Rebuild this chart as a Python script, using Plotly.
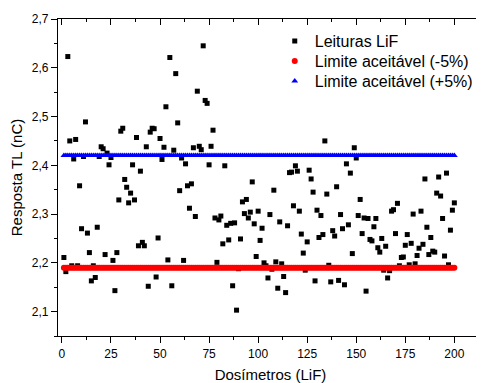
import plotly.graph_objects as go

dosimetros = list(range(1, 201))
leituras = [
    2.211, 2.182, 2.623, 2.450, 2.194, 2.413, 2.453, 2.194, 2.358, 2.270,
    2.418, 2.489, 2.261, 2.221, 2.163, 2.194, 2.170, 2.273, 2.418, 2.438,
    2.434, 2.217, 2.425, 2.401, 2.416, 2.205, 2.143, 2.221, 2.329, 2.470,
    2.476, 2.371, 2.355, 2.323, 2.343, 2.401, 2.329, 2.457, 2.235, 2.388,
    2.242, 2.235, 2.438, 2.152, 2.468, 2.476, 2.475, 2.171, 2.251, 2.455,
    2.412, 2.437, 2.520, 2.206, 2.621, 2.153, 2.431, 2.588, 2.487, 2.348,
    2.415, 2.205, 2.403, 2.358, 2.312, 2.362, 2.436, 2.295, 2.552, 2.439,
    2.432, 2.645, 2.533, 2.527, 2.401, 2.439, 2.472, 2.292, 2.201, 2.288,
    2.296, 2.239, 2.399, 2.277, 2.247, 2.281, 2.153, 2.282, 2.103, 2.188,
    2.249, 2.325, 2.301, 2.330, 2.292, 2.304, 2.366, 2.280, 2.213, 2.306,
    2.246, 2.271, 2.200, 2.194, 2.169, 2.299, 2.187, 2.349, 2.202, 2.148,
    2.284, 2.198, 2.172, 2.139, 2.276, 2.385, 2.386, 2.317, 2.399, 2.388,
    2.306, 2.259, 2.220, 2.185, 2.243, 2.390, 2.372, 2.345, 2.163, 2.308,
    2.252, 2.297, 2.258, 2.450, 2.341, 2.195, 2.161, 2.266, 2.255, 2.356,
    2.164, 2.299, 2.270, 2.155, 2.403, 2.278, 2.384, 2.219, 2.436, 2.415,
    2.297, 2.330, 2.260, 2.292, 2.142, 2.291, 2.248, 2.245, 2.274, 2.291,
    2.231, 2.222, 2.250, 2.185, 2.234, 2.169, 2.184, 2.306, 2.309, 2.260,
    2.322, 2.194, 2.211, 2.212, 2.236, 2.258, 2.196, 2.240, 2.300, 2.198,
    2.215, 2.230, 2.306, 2.238, 2.372, 2.273, 2.217, 2.252, 2.224, 2.222,
    2.343, 2.376, 2.337, 2.291, 2.214, 2.384, 2.196, 2.267, 2.308, 2.323,
]
limite_inf = [2.19] * 200
limite_sup = [2.42] * 200

FONT = "Arial, Liberation Sans, sans-serif"
XR = [-2.0, 214.6]
YR = [2.05, 2.70]

fig = go.Figure()
fig.add_trace(go.Scatter(x=dosimetros, y=leituras, mode="markers", name="Leituras LiF",
                         legend="legend",
                         marker=dict(symbol="square", size=5, color="black")))
fig.add_trace(go.Scatter(x=dosimetros, y=limite_inf, mode="markers", name="Limite aceitável (-5%)",
                         legend="legend2",
                         marker=dict(symbol="circle", size=6, color="#ff0000")))
fig.add_trace(go.Scatter(x=dosimetros, y=limite_sup, mode="markers", name="Limite aceitável (+5%)",
                         legend="legend3",
                         marker=dict(symbol="triangle-up", size=6, color="#0000ff")))
# dummy trace for mirrored (inside-tick) top/right axes
fig.add_trace(go.Scatter(x=[], y=[], xaxis="x2", yaxis="y2", showlegend=False, hoverinfo="skip"))

axis_common = dict(showgrid=False, zeroline=False, showline=True, linecolor="black",
                   linewidth=1.2, tickcolor="black", tickwidth=1.2)

LEG_X = 0.510
LEG_Y0 = 0.984
LEG_DY = 20 / 317
leg_common = dict(x=LEG_X, xanchor="left", yanchor="top", bgcolor="rgba(0,0,0,0)",
                  font=dict(size=16), borderwidth=0)

fig.update_layout(
    width=476, height=375,
    margin=dict(l=50, r=1, t=11, b=47),
    paper_bgcolor="white", plot_bgcolor="white",
    separators=",.",
    font=dict(family=FONT, size=12, color="black"),
    xaxis=dict(range=XR, tick0=0, dtick=25, ticks="outside", ticklen=6,
               minor=dict(dtick=12.5, tick0=0, ticks="outside", ticklen=3, tickcolor="black"),
               title=dict(text="Dosímetros (LiF)", font=dict(size=15), standoff=10),
               tickfont=dict(size=12), **axis_common),
    yaxis=dict(range=YR, tick0=2.1, dtick=0.1, tickformat=".1f", ticks="outside", ticklen=6,
               minor=dict(dtick=0.05, tick0=2.05, ticks="outside", ticklen=3, tickcolor="black"),
               title=dict(text="Resposta TL (nC)", font=dict(size=15), standoff=5),
               tickfont=dict(size=12), **axis_common),
    xaxis2=dict(range=XR, overlaying="x", side="top", tick0=0, dtick=25, ticks="inside", ticklen=6,
                showticklabels=False,
                minor=dict(dtick=12.5, tick0=0, ticks="inside", ticklen=3, tickcolor="black"),
                **axis_common),
    yaxis2=dict(range=YR, overlaying="y", side="right", tick0=2.1, dtick=0.1, ticks="inside", ticklen=6,
                showticklabels=False,
                minor=dict(dtick=0.05, tick0=2.05, ticks="inside", ticklen=3, tickcolor="black"),
                **axis_common),
    legend=dict(y=LEG_Y0, **leg_common),
    legend2=dict(y=LEG_Y0 - LEG_DY, **leg_common),
    legend3=dict(y=LEG_Y0 - 2 * LEG_DY, **leg_common),
    showlegend=True,
)

fig.write_html("out.html")
